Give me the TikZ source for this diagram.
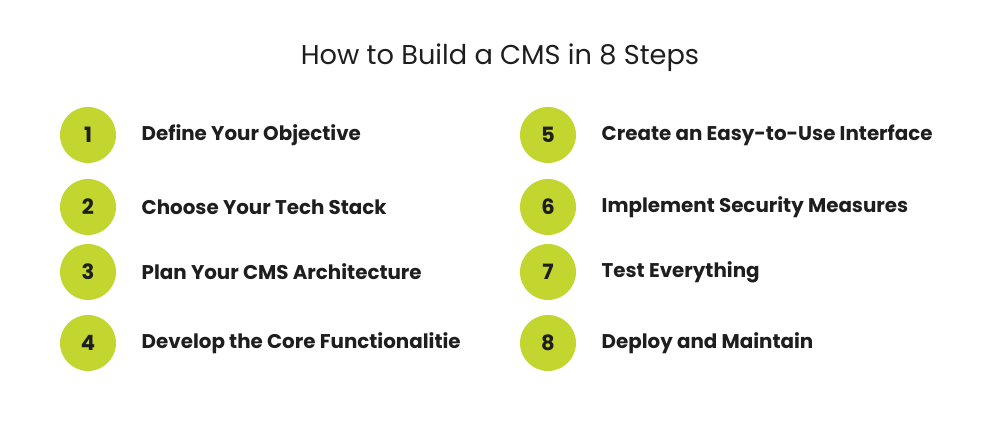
\documentclass[tikz,border=0pt]{standalone}
\usepackage{fontspec}
\setmainfont{Poppins}
\usetikzlibrary{positioning}
\definecolor{lime}{HTML}{C3D52F}
\definecolor{ink}{HTML}{1E1E1E}
\begin{document}
\begin{tikzpicture}[x=0.02cm,y=-0.02cm, node distance=0.66cm]
            \tikzstyle{badge}=[circle,fill=lime,minimum size=1.12cm,inner sep=0pt,font=\bfseries\fontsize{12}{14}\selectfont,text=ink]
            \tikzstyle{label}=[anchor=west,inner sep=0pt,font=\bfseries\fontsize{11.3}{14}\selectfont,text=ink]

            \useasboundingbox (0,0) rectangle (1000,425);

            \node[font=\fontsize{15.5}{18}\selectfont,text=ink] (TITLE) at (500,58) {How to Build a CMS in 8 Steps};

            % Left column
            \foreach \name / \y / \txt in {1/135/Define Your Objective,2/207/Choose Your Tech Stack,3/272/Plan Your CMS Architecture,4/343/Develop the Core Functionalitie}
                \path node[badge] (B-\name) at (88,\y) {\name}
                      node[label, right=0.5cm of B-\name] (L-\name) {\txt};

            % Right column
            \foreach \name / \y / \txt in {5/135/Create an Easy-to-Use Interface,6/207/Implement Security Measures,7/272/Test Everything,8/343/Deploy and Maintain}
                \path node[badge] (B-\name) at (548,\y) {\name}
                      node[label, right=0.5cm of B-\name] (L-\name) {\txt};
\end{tikzpicture}
\end{document}
